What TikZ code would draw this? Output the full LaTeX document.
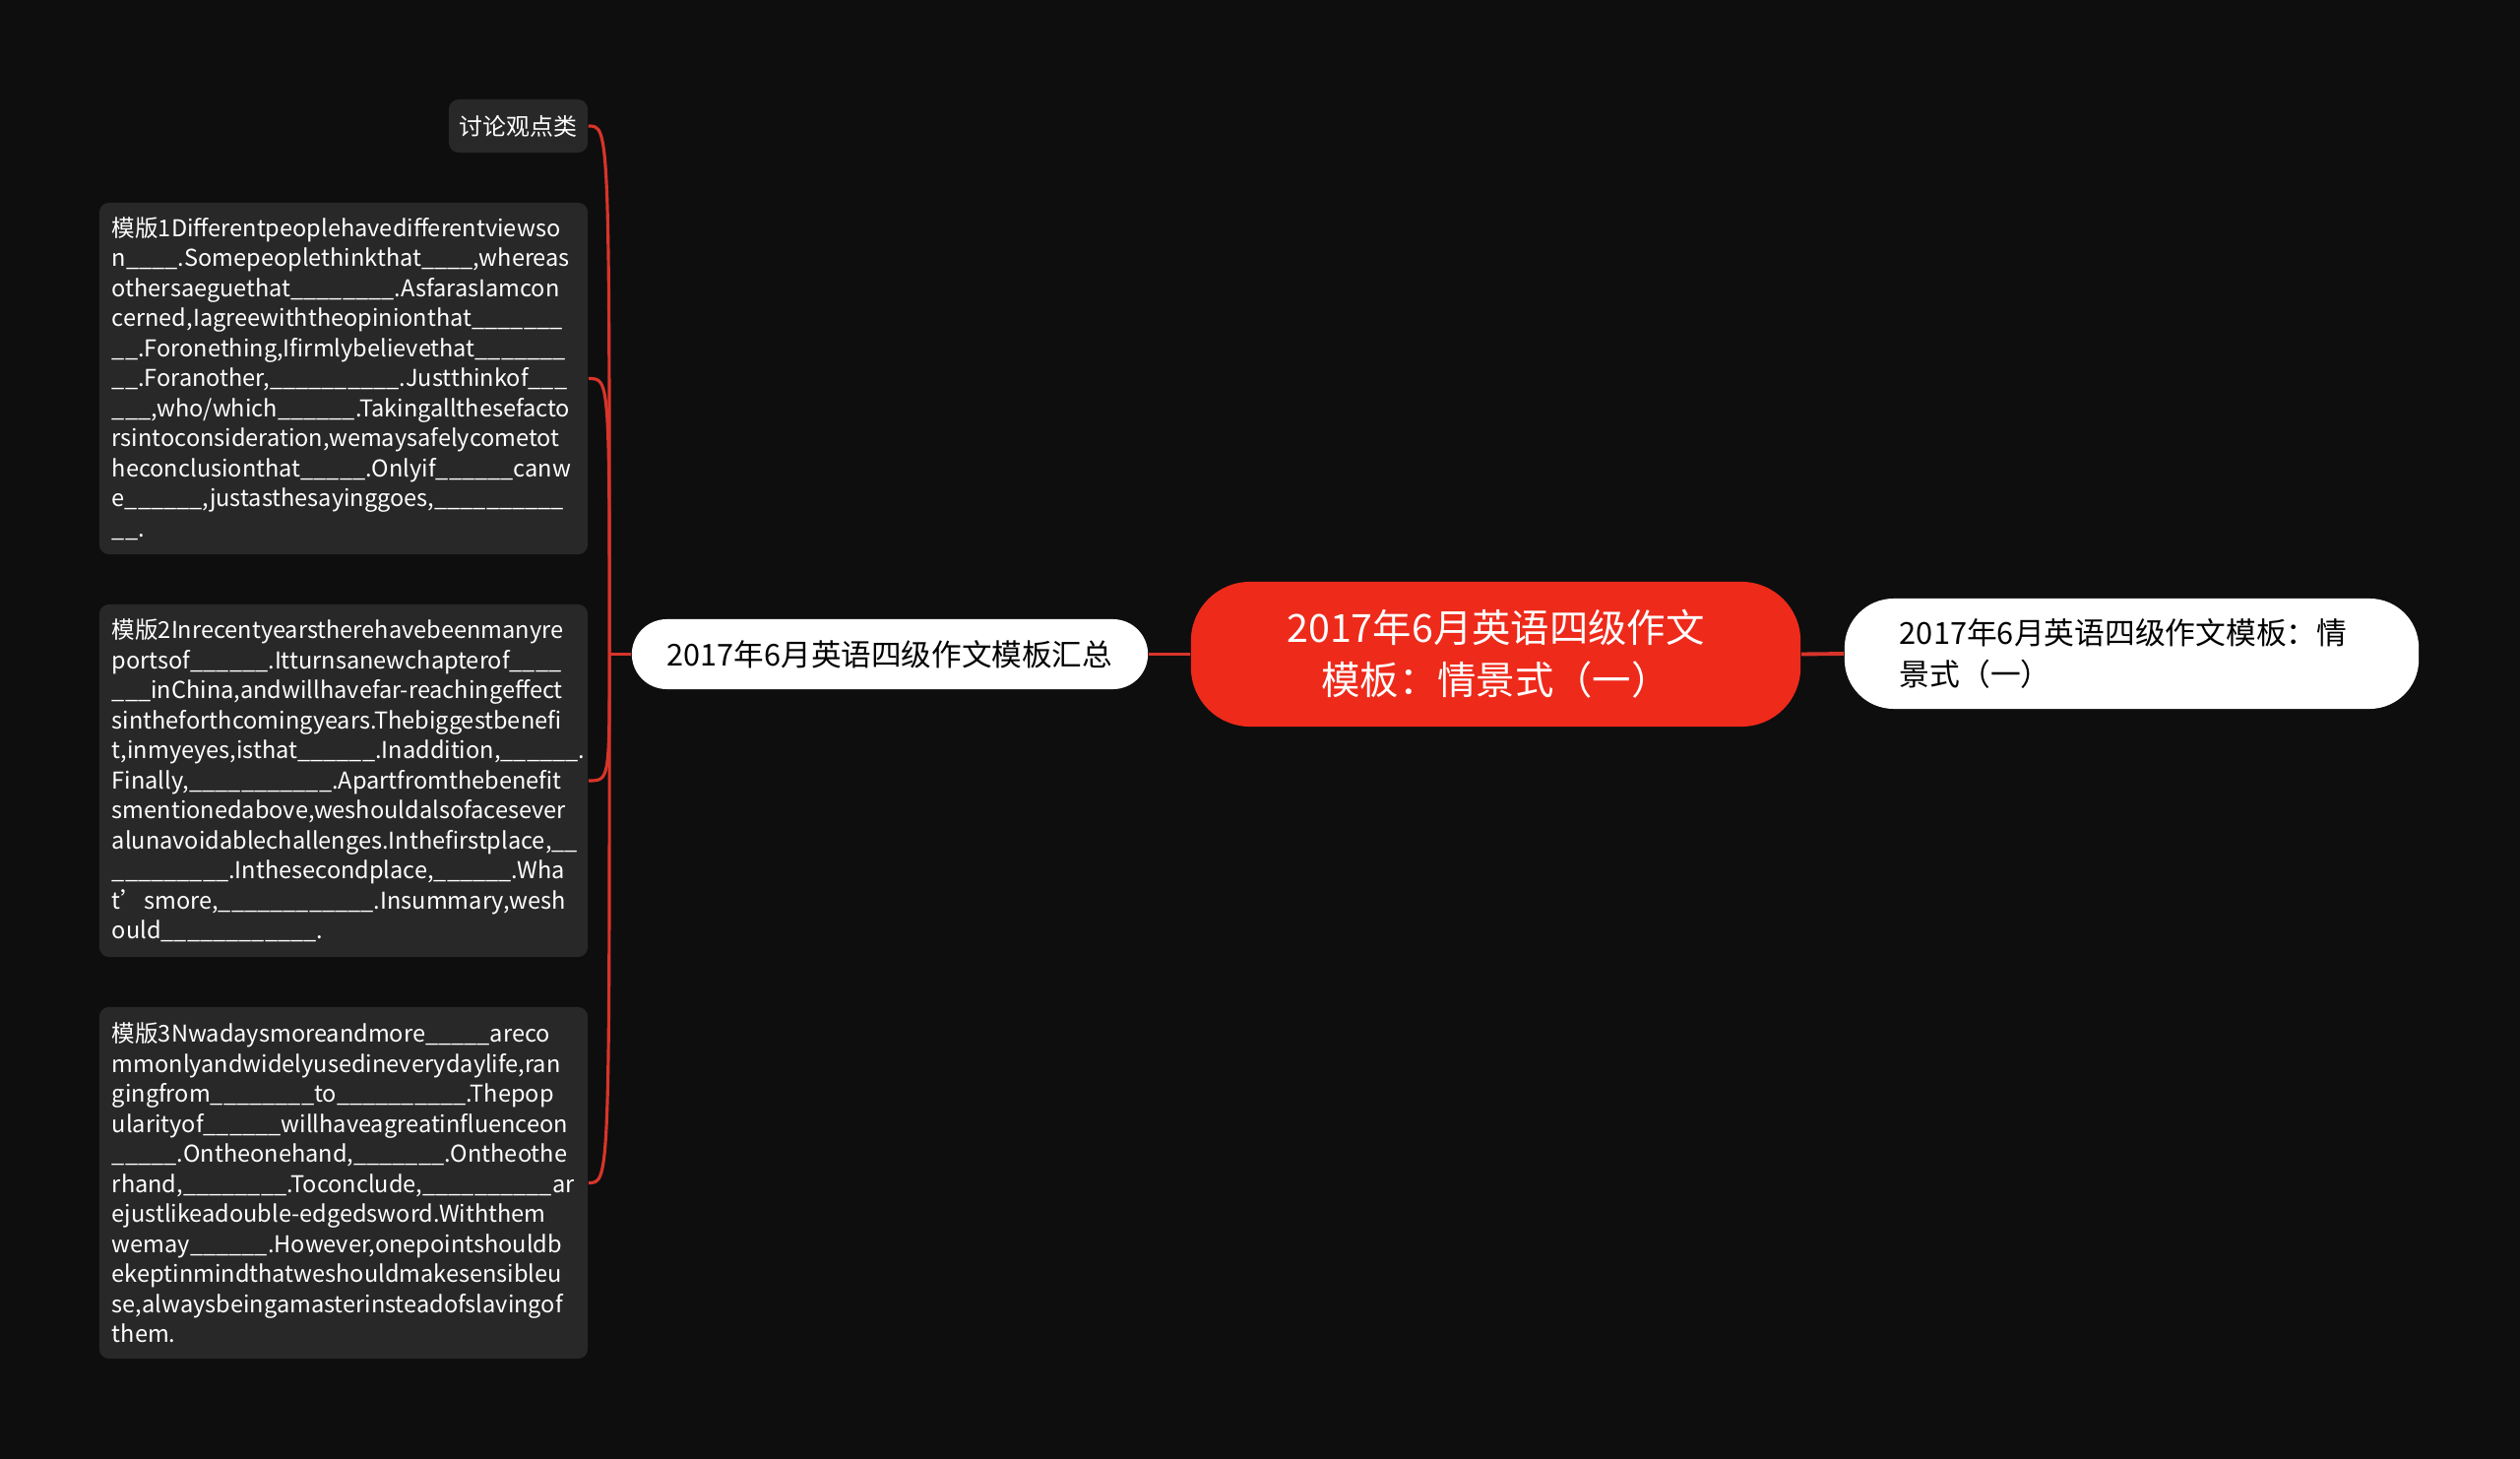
\documentclass[tikz,border=0pt]{standalone}
\usepackage{fontspec}
\setmainfont{Noto Sans CJK SC}
\usetikzlibrary{positioning}
\definecolor{bgdark}{HTML}{0E0E0E}
\definecolor{leafgray}{HTML}{282828}
\definecolor{rootred}{HTML}{EE2A1B}
\definecolor{linkred}{HTML}{D8342A}
\ExplSyntaxOn
\cs_new:Npn \blanks #1 {\prg_replicate:nn {#1} {\_}}
\ExplSyntaxOff
\hyphenpenalty=10000
\exhyphenpenalty=10000

\begin{document}
\begin{tikzpicture}[x=0.01cm,y=-0.01cm,
    leaf/.style={fill=leafgray, rounded corners=0.1cm, text=white},
    tplbox/.style={leaf, align=left, inner xsep=0.13cm, inner ysep=0pt, text width=4.70cm,
      font=\fontsize{6.7pt}{8.68pt}\selectfont},
    pill/.style={fill=white, text=black, inner sep=0pt},
    link/.style={linkred, line width=0.9pt}]
  \fill[bgdark] (0,0) rectangle (2560,1482);
  \useasboundingbox (0,0) rectangle (2560,1482);

  % main topic and its two branches
  \node[fill=rootred, text=white, rounded corners=0.6cm, minimum width=6.19cm, minimum height=1.47cm,
    align=center, font=\fontsize{11.2pt}{15.1pt}\selectfont] (root) at (1519.5,664.5)
    {2017年6月英语四级作文\\模板：情景式（一）};
  \node[pill, rounded corners=0.355cm, minimum width=5.24cm, minimum height=0.71cm,
    font=\fontsize{8.7pt}{10pt}\selectfont] (summary) at (904,664.5) {2017年6月英语四级作文模板汇总};
  \node[pill, rounded corners=0.5cm, minimum width=5.83cm, minimum height=1.12cm, align=left,
    inner xsep=0.56cm, text width=4.71cm,
    font=\fontsize{8.75pt}{11.95pt}\selectfont] (scene) at (2165.5,664)
    {2017年6月英语四级作文模板：情\\景式（一）};
  \draw[link, line width=1.1pt] (root.west) -- (summary.east);
  \draw[link, line width=1.1pt] (root.east) -- (scene.west);

  % leaves
  \node[leaf, inner sep=0pt, minimum width=1.41cm, minimum height=0.54cm,
    font=\fontsize{6.8pt}{8pt}\selectfont] (kind) at (526.5,128) {讨论观点类};
  \node[tplbox, minimum height=3.57cm] (tpl1) at (349,384.5) {%
    模版1Differentpeoplehavedifferentviewso\\
    n\blanks{4}.Somepeoplethinkthat\blanks{4},whereas\\
    othersaeguethat\blanks{8}.AsfarasIamcon\\
    cerned,Iagreewiththeopinionthat\blanks{7}\\
    \blanks{2}.Foronething,Ifirmlybelievethat\blanks{7}\\
    \blanks{2}.Foranother,\blanks{10}.Justthinkof\blanks{3}\\
    \blanks{3},who/which\blanks{6}.Takingallthesefacto\\
    rsintoconsideration,wemaysafelycometot\\
    heconclusionthat\blanks{5}.Onlyif\blanks{6}canw\\
    e\blanks{6},justasthesayinggoes,\blanks{10}\\
    \blanks{2}.};
  \node[tplbox, minimum height=3.58cm] (tpl2) at (349,793) {%
    模版2Inrecentyearstherehavebeenmanyre\\
    portsof\blanks{6}.Itturnsanewchapterof\blanks{4}\\
    \blanks{3}inChina,andwillhavefar-reachingeffect\\
    sintheforthcomingyears.Thebiggestbenefi\\
    t,inmyeyes,isthat\blanks{6}.Inaddition,\blanks{6}.\\
    Finally,\blanks{11}.Apartfromthebenefit\\
    smentionedabove,weshouldalsofacesever\\
    alunavoidablechallenges.Inthefirstplace,\blanks{2}\\
    \blanks{9}.Inthesecondplace,\blanks{6}.Wha\\
    t’smore,\blanks{12}.Insummary,wesh\\
    ould\blanks{12}.};
  \node[tplbox, minimum height=3.57cm] (tpl3) at (349,1201.5) {%
    模版3Nwadaysmoreandmore\blanks{5}areco\\
    mmonlyandwidelyusedineverydaylife,ran\\
    gingfrom\blanks{8}to\blanks{10}.Thepop\\
    ularityof\blanks{6}willhaveagreatinfluenceon\\
    \blanks{5}.Ontheonehand,\blanks{7}.Ontheothe\\
    rhand,\blanks{8}.Toconclude,\blanks{10}ar\\
    ejustlikeadouble-edgedsword.Withthem\\
    wemay\blanks{6}.However,onepointshouldb\\
    ekeptinmindthatweshouldmakesensibleu\\
    se,alwaysbeingamasterinsteadofslavingof\\
    them.};

  % connectors to the leaves
  \coordinate (hub) at ([xshift=-0.22cm]summary.west);
  \draw[link] (summary.west) -- (hub);
  \foreach \leaf in {kind,tpl1,tpl2,tpl3}
    \draw[link] (hub) .. controls (hub |- \leaf.east) .. (\leaf.east);
\end{tikzpicture}
\end{document}
